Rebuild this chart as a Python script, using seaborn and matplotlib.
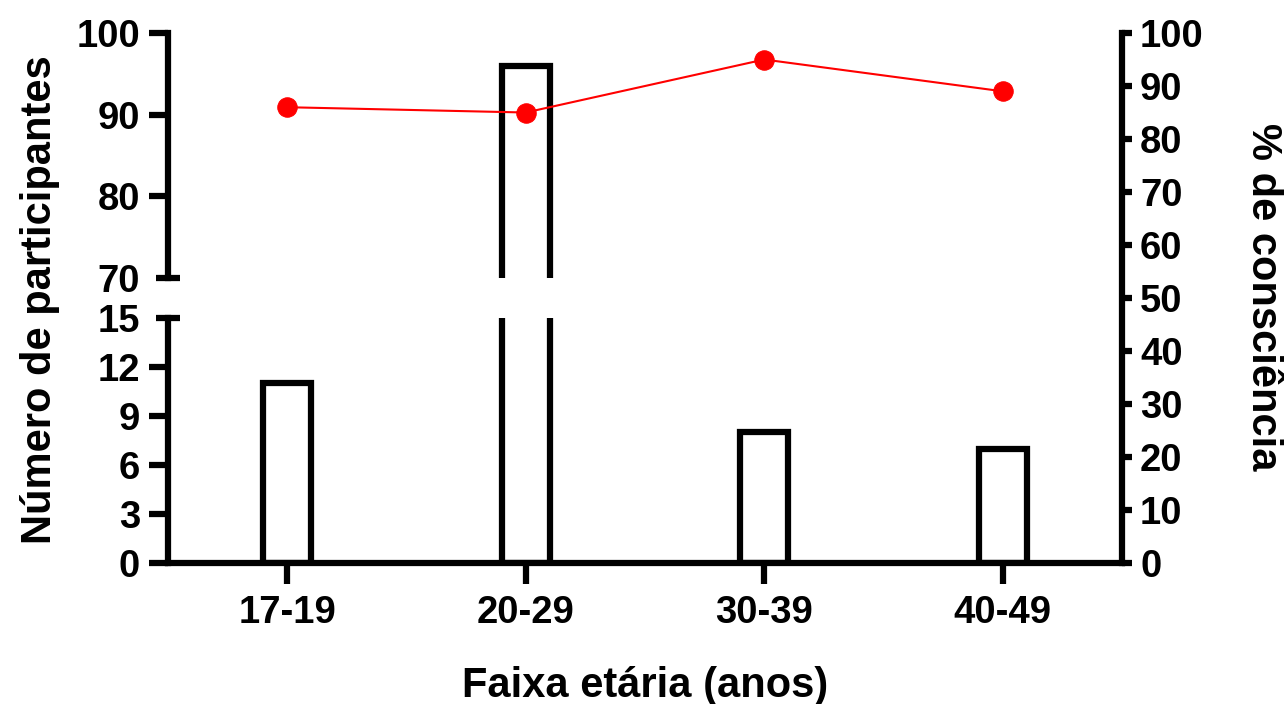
import matplotlib
matplotlib.use("Agg")
import matplotlib.pyplot as plt
import seaborn as sns

# data
age_groups = ["17-19", "20-29", "30-39", "40-49"]
participants = [11, 96, 8, 7]
awareness_pct = [86, 85, 95, 89]

low_ticks = [0, 3, 6, 9, 12]
low_top = 15
high_ticks = [80, 90, 100]
high_bottom = 70
pct_ticks = list(range(0, 101, 10))

sns.set_style("ticks")
plt.rcParams["font.family"] = ["Liberation Sans", "DejaVu Sans"]
plt.rcParams["font.weight"] = "bold"
plt.rcParams["axes.labelweight"] = "bold"
for key in ("text.color", "axes.labelcolor", "xtick.color", "ytick.color", "axes.edgecolor"):
    plt.rcParams[key] = "black"

TICK_FS = 27.5
LABEL_FS = 30
SPINE_W = 4.5
BAR_W = 4.5

fig = plt.figure(figsize=(12.84, 7.04), dpi=100)
left, width = 0.1308, 0.7430
ax_low = fig.add_axes([left, 0.2003, width, 0.3480])
ax_high = fig.add_axes([left, 0.6051, width, 0.3480])
ax_pct = fig.add_axes([left, 0.2003, width, 0.7528], facecolor="none")

# bars on both halves of the broken axis
for ax in (ax_low, ax_high):
    sns.barplot(x=age_groups, y=participants, ax=ax, color="white", saturation=1,
                edgecolor="black", linewidth=BAR_W, width=0.2)
    ax.set_xlim(-0.5, 3.5)
    ax.set_xlabel("")
    ax.set_ylabel("")
    ax.spines["top"].set_visible(False)
    ax.spines["right"].set_visible(False)
    ax.spines["left"].set_linewidth(SPINE_W)
    ax.spines["bottom"].set_linewidth(SPINE_W)
    ax.tick_params(axis="y", length=14, width=SPINE_W, labelsize=TICK_FS, pad=6)
    ax.tick_params(axis="y", which="minor", length=0, labelsize=TICK_FS, pad=20)

ax_low.set_ylim(0, low_top)
ax_low.set_yticks(low_ticks)
ax_low.set_yticks([low_top], labels=[str(low_top)], minor=True)
ax_low.tick_params(axis="x", length=15, width=SPINE_W, labelsize=TICK_FS, pad=8)
ax_low.set_xlabel("Faixa etária (anos)", fontsize=LABEL_FS, labelpad=25)

ax_high.set_ylim(high_bottom, 100)
ax_high.set_yticks(high_ticks)
ax_high.set_yticks([high_bottom], labels=[str(high_bottom)], minor=True)
ax_high.spines["bottom"].set_visible(False)
ax_high.tick_params(axis="x", bottom=False, labelbottom=False)

# caps marking the axis break
for ax, yv in ((ax_low, low_top), (ax_high, high_bottom)):
    ax.plot([-0.0126, 0.0126], [yv, yv], transform=ax.get_yaxis_transform(),
            color="black", lw=SPINE_W, clip_on=False, solid_capstyle="butt")

# awareness line on the right axis
sns.lineplot(x=age_groups, y=awareness_pct, ax=ax_pct, color="red", marker="o",
             markersize=14, markeredgecolor="red", linewidth=1.5, sort=False)
ax_pct.set_xlim(-0.5, 3.5)
ax_pct.set_ylim(0, 100)
ax_pct.set_yticks(pct_ticks)
ax_pct.xaxis.set_visible(False)
ax_pct.yaxis.tick_right()
for side in ("left", "top", "bottom"):
    ax_pct.spines[side].set_visible(False)
ax_pct.spines["right"].set_visible(True)
ax_pct.spines["right"].set_linewidth(SPINE_W)
ax_pct.tick_params(axis="y", length=7, width=SPINE_W, labelsize=TICK_FS, pad=6)
ax_pct.set_ylabel("")

fig.text(0.031, 1 - 300 / 704, "Número de participantes", rotation=90,
         ha="center", va="center", fontsize=LABEL_FS, fontweight="bold")
fig.text(0.984, 1 - 297 / 704, "% de consciência", rotation=270,
         ha="center", va="center", fontsize=LABEL_FS, fontweight="bold")

fig.savefig("out.png", dpi=100)
